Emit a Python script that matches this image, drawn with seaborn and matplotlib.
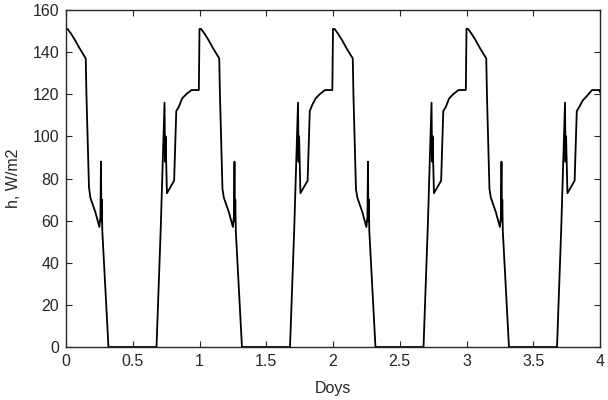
"""
Heat flux h over four days -- recreated line chart.
"""

import matplotlib
matplotlib.use("Agg")

import matplotlib.pyplot as plt
import numpy as np
import pandas as pd
import seaborn as sns

# time within each day (fraction of a day) where the curve bends
DAY_FRACTION = [0.0, 0.012, 0.035, 0.065, 0.10, 0.148, 0.153, 0.172, 0.182, 0.22,
                0.25, 0.258, 0.262, 0.265, 0.268, 0.272, 0.318, 0.678, 0.71,
                0.738, 0.742, 0.746, 0.756, 0.81, 0.826, 0.845, 0.87, 0.90,
                0.94, 0.995]

# h, W/m2
H_DAY1 = [151, 151, 149, 146, 142, 137, 120, 76, 71, 64,
          57, 62, 88, 60, 70, 55, 0, 0, 57,
          116, 88, 100, 73, 79, 112, 114, 118, 120,
          122, 122]
H_DAY2 = [151, 151, 149, 146, 142, 137, 120, 75, 71, 64,
          57, 62, 88, 60, 70, 55, 0, 0, 57,
          116, 88, 100, 73, 79, 112, 115, 118, 120,
          122, 122]
H_DAY3 = [151, 151, 149, 146, 142, 137, 120, 75, 71, 64,
          57, 62, 88, 60, 70, 55, 0, 0, 57,
          116, 88, 100, 73, 79, 112, 114, 118, 120,
          122, 122]
H_DAY4 = [151, 151, 149, 146, 142, 137, 120, 75, 71, 64,
          57, 62, 88, 60, 70, 55, 0, 0, 57,
          116, 88, 100, 73, 79, 112, 114, 117, 119,
          122, 122]
END_DAY = 4.0
END_H = 121

X_TICKS = [0, 0.5, 1, 1.5, 2, 2.5, 3, 3.5, 4]
X_TICK_LABELS = ["0", "0.5", "1", "1.5", "2", "2.5", "3", "3.5", "4"]
Y_TICKS = [0, 20, 40, 60, 80, 100, 120, 140, 160]

sns.set_style("ticks")
plt.rcParams["font.family"] = ["Liberation Sans", "DejaVu Sans"]


def build_frame() -> pd.DataFrame:
    rows = []
    for day, values in enumerate([H_DAY1, H_DAY2, H_DAY3, H_DAY4]):
        for frac, h in zip(DAY_FRACTION, values):
            rows.append((day + frac, h))
    rows.append((END_DAY, END_H))
    return pd.DataFrame(rows, columns=["days", "h"])


def main() -> None:
    df = build_frame()

    fig = plt.figure(figsize=(6.08, 4.0), dpi=100)
    ax = fig.add_axes([66 / 608, 1 - 347 / 400, (600 - 66) / 608, (347 - 10) / 400])

    sns.lineplot(data=df, x="days", y="h", ax=ax, color="black", lw=1.3,
                 sort=False, estimator=None)

    ax.set_xlim(0, 4)
    ax.set_ylim(0, 160)
    ax.set_xticks(X_TICKS)
    ax.set_xticklabels(X_TICK_LABELS)
    ax.set_yticks(Y_TICKS)
    ax.tick_params(direction="in", top=True, right=True, length=4,
                   labelsize=11.5, width=0.8, pad=5)
    for sp in ax.spines.values():
        sp.set_linewidth(1.0)
        sp.set_visible(True)

    ax.set_xlabel("Doys", fontsize=11.5, labelpad=9)
    ax.set_ylabel("h, W/m2", fontsize=11.5, labelpad=8)

    fig.savefig("out.png", dpi=100)
    plt.close(fig)


if __name__ == "__main__":
    main()
